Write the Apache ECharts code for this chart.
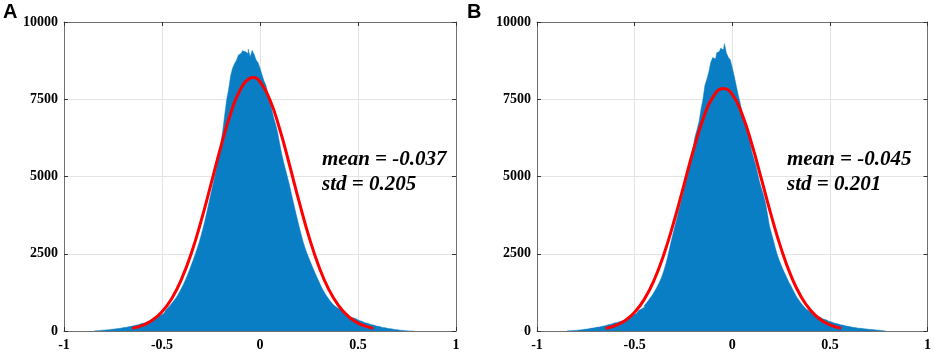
<!DOCTYPE html>
<html>
<head>
<meta charset="utf-8">
<style>
  html, body { margin: 0; padding: 0; background: #fff; }
  #chart { width: 934px; height: 353px; }
</style>
</head>
<body>
<div id="chart"></div>
<script src="https://cdn.jsdelivr.net/npm/echarts/dist/echarts.min.js"></script>
<script>
// histogram bins are 0.01 wide, first bin centre at -0.845
const binStart = -0.845
const binStep = 0.01

// panel A counts per bin
const countsA = [
  6, 10, 15, 20, 25, 30, 36, 42, 49, 56,
  64, 72, 80, 90, 100, 110, 121, 133, 146, 160,
  175, 190, 205, 222, 240, 258, 278, 298, 318, 340,
  370, 400, 435, 475, 520, 570, 625, 685, 750, 820,
  895, 975, 1060, 1160, 1270, 1390, 1520, 1660, 1810, 1970,
  2140, 2310, 2490, 2680, 2880, 3100, 3340, 3600, 3880, 4170,
  4460, 4750, 5040, 5360, 5700, 6060, 6480, 7000, 7480, 7820,
  8250, 8500, 8650, 8760, 8930, 8990, 9070, 9040, 8980, 9120,
  8870, 9080, 8950, 8770, 8680, 8500, 8300, 8100, 7950, 7700,
  7440, 7170, 6900, 6680, 6420, 6080, 5750, 5480, 5230, 4980,
  4730, 4450, 4170, 3900, 3630, 3370, 3120, 2890, 2690, 2510,
  2350, 2190, 2040, 1890, 1750, 1610, 1470, 1345, 1230, 1130,
  1040, 955, 880, 815, 755, 705, 655, 615, 575, 535,
  495, 460, 425, 395, 365, 340, 315, 290, 270, 250,
  230, 210, 192, 175, 158, 143, 128, 114, 102, 90,
  80, 70, 61, 52, 44, 36, 28, 20, 13, 7,
  3, 0, 0, 0
]

// panel B counts per bin
const countsB = [
  5, 8, 12, 16, 20, 25, 30, 38, 46, 55,
  65, 75, 85, 96, 107, 118, 130, 143, 157, 172,
  188, 205, 222, 240, 258, 275, 292, 310, 330, 352,
  378, 408, 442, 480, 522, 565, 612, 660, 710, 765,
  830, 900, 985, 1070, 1160, 1260, 1370, 1490, 1620, 1770,
  1960, 2170, 2420, 2700, 2980, 3240, 3490, 3740, 4000, 4250,
  4510, 4780, 5060, 5360, 5650, 5950, 6300, 6530, 6780, 7180,
  7500, 7950, 8150, 8380, 8700, 8850, 8800, 9000, 9050, 9150,
  9100, 9300, 9000, 8850, 8780, 8520, 8250, 7950, 7650, 7400,
  7100, 6880, 6620, 6400, 6130, 5820, 5580, 5380, 5100, 4820,
  4600, 4400, 4150, 3800, 3420, 3180, 2950, 2700, 2480, 2300,
  2140, 1990, 1850, 1720, 1580, 1470, 1340, 1220, 1100, 1010,
  920, 840, 770, 705, 650, 600, 560, 520, 480, 450,
  420, 390, 365, 340, 315, 290, 270, 250, 232, 215,
  200, 185, 170, 158, 145, 133, 122, 112, 102, 93,
  85, 77, 70, 63, 57, 51, 45, 40, 34, 28,
  22, 16, 10, 5
]

// fitted normal curves (red)
const fitAX = [-0.652, -0.6, -0.55, -0.5, -0.45, -0.4, -0.35, -0.3, -0.25, -0.2, -0.15, -0.1, -0.05, -0.037,
  0, 0.05, 0.1, 0.15, 0.2, 0.25, 0.3, 0.35, 0.4, 0.45, 0.5, 0.55, 0.578]
const fitAY = [87, 182, 347, 624, 1055, 1684, 2527, 3572, 4755, 5960, 7034, 7818, 8183, 8200,
  8066, 7487, 6545, 5388, 4176, 3047, 2095, 1357, 827, 475, 257, 131, 87]
const fitBX = [-0.65, -0.6, -0.55, -0.5, -0.45, -0.4, -0.35, -0.3, -0.25, -0.2, -0.15, -0.1, -0.045,
  0, 0.05, 0.1, 0.15, 0.2, 0.25, 0.3, 0.35, 0.4, 0.45, 0.5, 0.558]
const fitBY = [85, 174, 334, 605, 1031, 1650, 2483, 3510, 4667, 5833, 6849, 7562, 7850,
  7655, 7020, 6052, 4903, 3734, 2674, 1800, 1138, 677, 378, 199, 87]

const xTicks = [-1, -0.5, 0, 0.5, 1]
const yTicks = [0, 2500, 5000, 7500, 10000]
const statsA = ['mean = -0.037', 'std = 0.205']
const statsB = ['mean = -0.045', 'std = 0.201']

const barColor = '#0a7ec4'
const frameColor = '#6f6f6f'
const gridColor = '#e3e3e3'
const serif = "'Liberation Serif', 'Times New Roman', serif"

function histData(counts) {
  return counts.map((c, i) => [+(binStart + i * binStep).toFixed(3), c])
}

function fitData(xs, ys) {
  return xs.map((x, i) => [x, ys[i]])
}

function xAxisFor(gridIndex, pos) {
  let bottom = pos === 'bottom'
  return {
    type: 'value',
    gridIndex: gridIndex,
    position: pos,
    min: xTicks[0],
    max: xTicks[xTicks.length - 1],
    interval: xTicks[1] - xTicks[0],
    axisLine: { show: true, onZero: false, lineStyle: { color: frameColor, width: 1 } },
    axisTick: { show: true, inside: true, length: 4, lineStyle: { color: '#333' } },
    axisLabel: {
      show: bottom,
      color: '#000',
      fontFamily: serif,
      fontWeight: 'bold',
      fontSize: 14,
      margin: 7,
      formatter: v => String(v)
    },
    splitLine: { show: bottom, lineStyle: { color: gridColor, width: 1 } }
  }
}

function yAxisFor(gridIndex, pos) {
  let left = pos === 'left'
  return {
    type: 'value',
    gridIndex: gridIndex,
    position: pos,
    min: yTicks[0],
    max: yTicks[yTicks.length - 1],
    interval: yTicks[1] - yTicks[0],
    axisLine: { show: true, onZero: false, lineStyle: { color: frameColor, width: 1 } },
    axisTick: { show: true, inside: true, length: 4, lineStyle: { color: '#333' } },
    axisLabel: {
      show: left,
      color: '#000',
      fontFamily: serif,
      fontWeight: 'bold',
      fontSize: 14,
      margin: 6,
      formatter: v => String(v)
    },
    splitLine: { show: left, lineStyle: { color: gridColor, width: 1 } }
  }
}

// mean / std annotation, two lines
function statText(lines, left) {
  return lines.map((t, i) => ({
    type: 'text',
    left: left,
    top: 149 + i * 25,
    z: 100,
    style: {
      text: t,
      fill: '#000',
      font: "italic bold 21px 'Liberation Serif', 'Times New Roman', serif"
    }
  }))
}

let myChart = echarts.init(document.getElementById('chart'))
let option = {
  animation: false,
  backgroundColor: '#fff',
  grid: [
    { left: 64, top: 22, width: 392, height: 309 },
    { left: 537, top: 22, width: 392, height: 309 }
  ],
  xAxis: [xAxisFor(0, 'bottom'), xAxisFor(0, 'top'), xAxisFor(1, 'bottom'), xAxisFor(1, 'top')],
  yAxis: [yAxisFor(0, 'left'), yAxisFor(0, 'right'), yAxisFor(1, 'left'), yAxisFor(1, 'right')],
  series: [
    {
      type: 'line',
      xAxisIndex: 0,
      yAxisIndex: 0,
      step: 'middle',
      showSymbol: false,
      data: histData(countsA),
      lineStyle: { color: barColor, width: 0.5 },
      areaStyle: { color: barColor, opacity: 1 }
    },
    {
      type: 'line',
      xAxisIndex: 0,
      yAxisIndex: 0,
      smooth: true,
      showSymbol: false,
      data: fitData(fitAX, fitAY),
      lineStyle: { color: '#ff0000', width: 3 },
      z: 5
    },
    {
      type: 'line',
      xAxisIndex: 2,
      yAxisIndex: 2,
      step: 'middle',
      showSymbol: false,
      data: histData(countsB),
      lineStyle: { color: barColor, width: 0.5 },
      areaStyle: { color: barColor, opacity: 1 }
    },
    {
      type: 'line',
      xAxisIndex: 2,
      yAxisIndex: 2,
      smooth: true,
      showSymbol: false,
      data: fitData(fitBX, fitBY),
      lineStyle: { color: '#ff0000', width: 3 },
      z: 5
    }
  ],
  graphic: [
    {
      type: 'text',
      left: 3,
      top: 2,
      style: { text: 'A', fill: '#000', font: "bold 20px 'Liberation Sans', Arial, sans-serif" }
    },
    {
      type: 'text',
      left: 467,
      top: 2,
      style: { text: 'B', fill: '#000', font: "bold 20px 'Liberation Sans', Arial, sans-serif" }
    }
  ].concat(statText(statsA, 322), statText(statsB, 787))
}
myChart.setOption(option)
</script>
</body>
</html>
